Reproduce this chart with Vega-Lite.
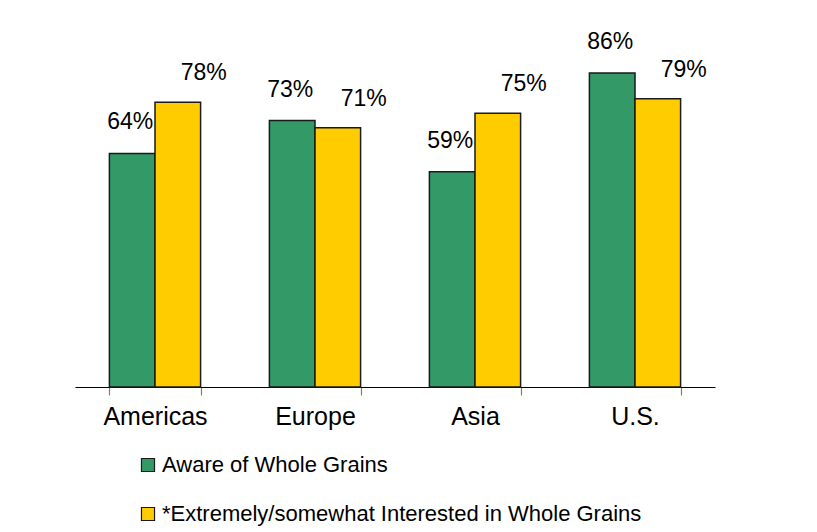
{
  "$schema": "https://vega.github.io/schema/vega-lite/v6.json",
  "width": 640,
  "height": 365,
  "padding": {"left": 75, "top": 22, "right": 5, "bottom": 5},
  "background": "white",
  "config": {
    "view": {"stroke": null},
    "font": "Liberation Sans",
    "axis": {"ticks": true, "tickOpacity": 1}
  },
  "data": {
    "values": [
      {"region": "Americas", "series": "Aware of Whole Grains", "value": 0.64},
      {"region": "Americas", "series": "*Extremely/somewhat Interested in Whole Grains", "value": 0.78},
      {"region": "Europe", "series": "Aware of Whole Grains", "value": 0.73},
      {"region": "Europe", "series": "*Extremely/somewhat Interested in Whole Grains", "value": 0.71},
      {"region": "Asia", "series": "Aware of Whole Grains", "value": 0.59},
      {"region": "Asia", "series": "*Extremely/somewhat Interested in Whole Grains", "value": 0.75},
      {"region": "U.S.", "series": "Aware of Whole Grains", "value": 0.86},
      {"region": "U.S.", "series": "*Extremely/somewhat Interested in Whole Grains", "value": 0.79}
    ]
  },
  "layer": [
    {
      "mark": {"type": "bar", "stroke": "#1a1a1a", "strokeWidth": 1.5},
      "encoding": {
        "x": {
          "field": "region",
          "type": "nominal",
          "sort": ["Americas", "Europe", "Asia", "U.S."],
          "scale": {"paddingInner": 0.43, "paddingOuter": 0.215},
          "axis": {
            "title": null,
            "labelAngle": 0,
            "labelFontSize": 25,
            "labelColor": "black",
            "labelPadding": 9,
            "ticks": true,
            "tickSize": 8,
            "tickWidth": 1.2,
            "tickColor": "#7f7f7f",
            "tickBand": "extent",
            "domainColor": "black",
            "domainWidth": 1.2,
            "grid": false
          }
        },
        "xOffset": {
          "field": "series",
          "type": "nominal",
          "sort": ["Aware of Whole Grains", "*Extremely/somewhat Interested in Whole Grains"],
          "scale": {"paddingInner": 0, "paddingOuter": 0}
        },
        "y": {"field": "value", "type": "quantitative", "scale": {"domain": [0, 1]}, "axis": null},
        "color": {
          "field": "series",
          "type": "nominal",
          "sort": ["Aware of Whole Grains", "*Extremely/somewhat Interested in Whole Grains"],
          "scale": {
            "domain": ["Aware of Whole Grains", "*Extremely/somewhat Interested in Whole Grains"],
            "range": ["#339966", "#FFCC00"]
          },
          "legend": {
            "title": null,
            "orient": "none",
            "legendX": 62,
            "legendY": 432,
            "direction": "vertical",
            "symbolType": "square",
            "symbolSize": 170,
            "symbolStrokeColor": "#1a1a1a",
            "symbolStrokeWidth": 1.2,
            "symbolOpacity": 1,
            "labelFontSize": 22,
            "labelColor": "black",
            "labelOffset": 3,
            "labelLimit": 700,
            "rowPadding": 27,
            "padding": 0
          }
        }
      }
    },
    {
      "transform": [{"filter": "datum.series == 'Aware of Whole Grains'"}],
      "mark": {"type": "text", "fontSize": 23, "color": "black", "baseline": "alphabetic", "dy": -24, "dx": -2},
      "encoding": {
        "x": {"field": "region", "type": "nominal", "sort": ["Americas", "Europe", "Asia", "U.S."]},
        "xOffset": {"field": "series", "type": "nominal", "sort": ["Aware of Whole Grains", "*Extremely/somewhat Interested in Whole Grains"]},
        "y": {"field": "value", "type": "quantitative"},
        "text": {"field": "value", "type": "quantitative", "format": ".0%"}
      }
    },
    {
      "transform": [{"filter": "datum.series != 'Aware of Whole Grains'"}],
      "mark": {"type": "text", "fontSize": 23, "color": "black", "baseline": "alphabetic", "dy": -22, "dx": 26},
      "encoding": {
        "x": {"field": "region", "type": "nominal", "sort": ["Americas", "Europe", "Asia", "U.S."]},
        "xOffset": {"field": "series", "type": "nominal", "sort": ["Aware of Whole Grains", "*Extremely/somewhat Interested in Whole Grains"]},
        "y": {"field": "value", "type": "quantitative"},
        "text": {"field": "value", "type": "quantitative", "format": ".0%"}
      }
    }
  ]
}
